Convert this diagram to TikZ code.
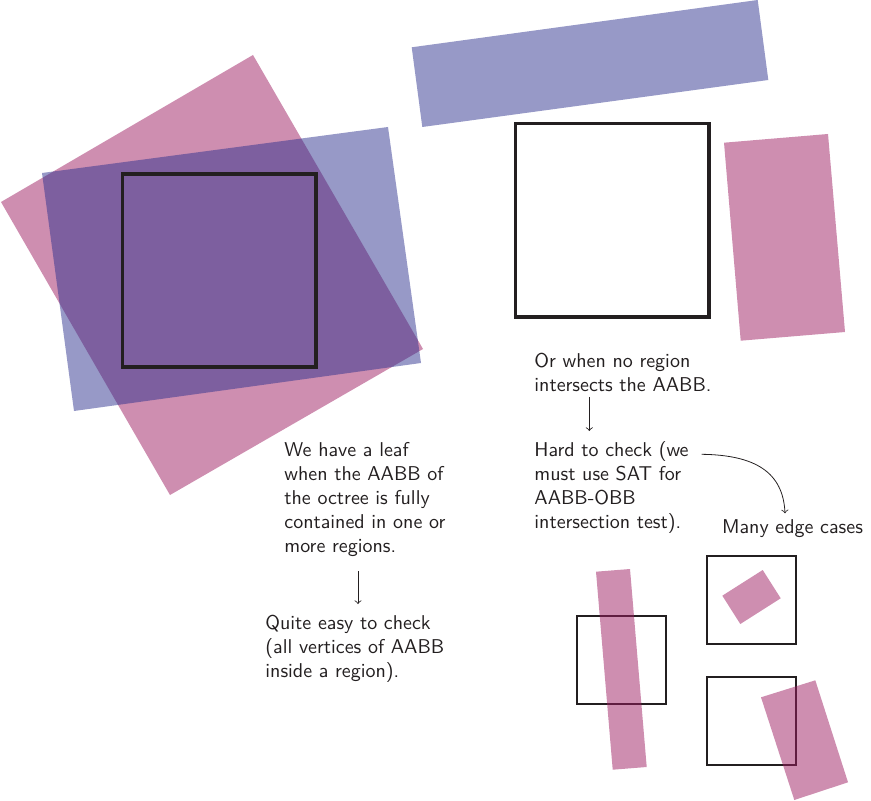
\documentclass[tikz,border=0pt]{standalone}
\usetikzlibrary{arrows}
\definecolor{pinkc}{RGB}{157,29,97}
\definecolor{bluec}{RGB}{47,51,143}
\definecolor{inkc}{RGB}{35,31,32}
\begin{document}
\begin{tikzpicture}[x=0.5pt,y=-0.5pt,
  pinkregion/.style={fill=pinkc,fill opacity=0.5},
  blueregion/.style={fill=bluec,fill opacity=0.5},
  bigbox/.style={draw=inkc,line width=1.8pt},
  smallbox/.style={draw=inkc,line width=0.95pt},
  note/.style={anchor=north west,inner sep=0pt,align=left,font=\sffamily\fontsize{10}{12}\selectfont,text=inkc},
  link/.style={draw=inkc,line width=0.4pt,->}]
\useasboundingbox (0,0) rectangle (871,801);
% left group
\fill[pinkregion] (253,55) -- (423,349) -- (170,495) -- (1,202) -- cycle;
\fill[blueregion] (42,173) -- (388,127) -- (421,363) -- (74,411) -- cycle;
\draw[bigbox] (122.5,174) rectangle (315.7,367.3);
% top right group
\fill[blueregion] (411.7,47.3) -- (757.7,0) -- (768.3,80) -- (422.3,127) -- cycle;
\draw[bigbox] (515.3,123.7) rectangle (708.7,317);
\fill[pinkregion] (724,142.7) -- (828,134) -- (845,332) -- (740.7,340.7) -- cycle;
% edge cases
\draw[smallbox] (576.7,615.7) rectangle (666,704.3);
\fill[pinkregion] (596,571.7) -- (630,569) -- (646.7,767) -- (612.7,769.7) -- cycle;
\draw[smallbox] (706.7,555.7) rectangle (795.7,644.3);
\fill[pinkregion] (722.3,595.7) -- (762.7,570) -- (780.7,598.3) -- (740.3,624) -- cycle;
\draw[smallbox] (706.7,676.7) rectangle (795.7,765.3);
\fill[pinkregion] (761,697.3) -- (815.3,680.3) -- (848,782.3) -- (794.3,800) -- cycle;
% texts
\node[note] (leaf) at (284,442.1) {We have a leaf\\when the AABB of\\the octree is fully\\contained in one or\\more regions.};
\node[note] (easy) at (265,615.1) {Quite easy to check\\(all vertices of AABB\\inside a region).};
\node[note] (none) at (534,353.1) {Or when no region\\intersects the AABB.};
\node[note] (hard) at (534,441) {Hard to check (we\\must use SAT for\\AABB-OBB\\intersection test).};
\node[note] (many) at (721.7,518.8) {Many edge cases};
% connectors
\coordinate (a1s) at (358,571);
\coordinate (a1e) at (358,604);
\coordinate (a2s) at (589.3,397);
\coordinate (a2e) at (589.3,431);
\coordinate (a3s) at (701.7,454.3);
\coordinate (a3e) at (785,513.3);
\draw[link] (a1s) -- (a1e);
\draw[link] (a2s) -- (a2e);
\draw[link] (a3s) .. controls (755,455) and (783,472) .. (a3e);
\end{tikzpicture}
\end{document}
